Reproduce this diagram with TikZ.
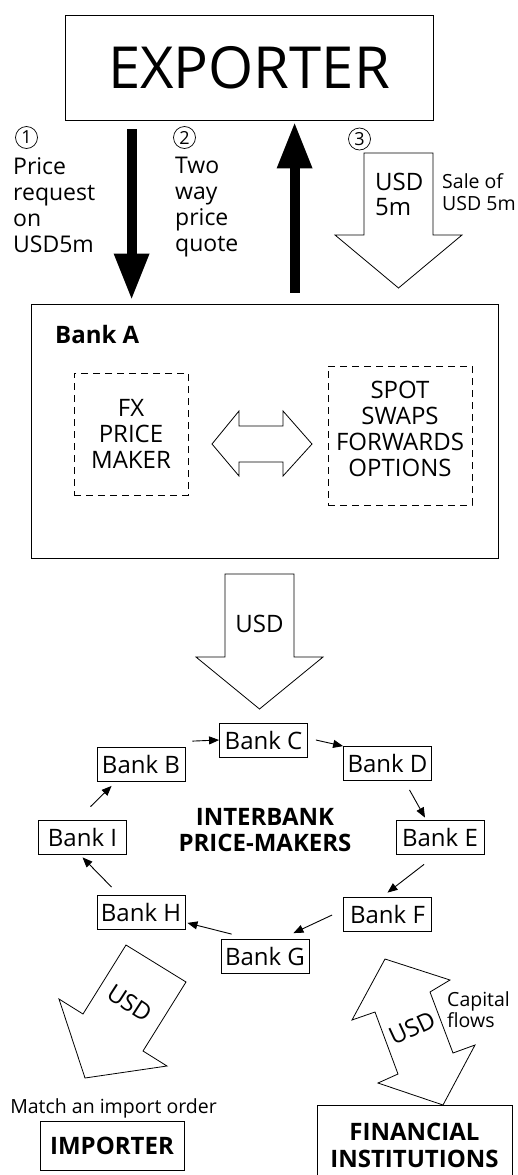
\documentclass[tikz,border=0pt]{standalone}
\usepackage{fontspec}
\setmainfont{Open Sans}
\usetikzlibrary{arrows.meta}

\begin{document}
\begin{tikzpicture}[x=1pt,y=-1pt,
    box/.style={draw,line width=0.8pt,inner sep=0pt},
    dashbox/.style={draw,line width=0.8pt,dash pattern=on 7pt off 5pt,inner sep=0pt},
    bank/.style={box,minimum width=88pt,minimum height=34pt,font=\fontsize{24}{26}\selectfont},
    txt/.style={inner sep=0pt,align=left,font=\fontsize{23}{26}\selectfont},
    small/.style={inner sep=0pt,align=left,font=\fontsize{19.5}{22}\selectfont},
    bold/.style={inner sep=0pt,align=center,font=\fontsize{24}{26.5}\selectfont\bfseries},
    num/.style={circle,draw,line width=0.7pt,inner sep=0pt,minimum size=22pt,font=\fontsize{18}{20}\selectfont},
    hollow/.style={draw,line width=0.8pt,fill=white,line join=miter},
    heavy/.style={line width=10pt,-{Triangle[length=45pt,width=36pt,line width=0pt]}},
    link/.style={line width=0.9pt,-{Triangle[length=10pt,width=8pt]}}]
  \useasboundingbox (0,0) rectangle (517,1175);

  % exporter and bank A
  \node[box,minimum width=368pt,minimum height=105pt,font=\fontsize{58}{60}\selectfont] (exp) at (249,67.5) {EXPORTER};
  \node[box,minimum width=467pt,minimum height=254pt] (bankA) at (264.5,431) {};
  \node[bold,anchor=base west] (bankAlbl) at (55,343) {Bank A};
  \node[dashbox,minimum width=114pt,minimum height=122pt,align=center,font=\fontsize{24}{26}\selectfont] (fx) at (131,434) {FX\\PRICE\\MAKER};
  \node[dashbox,minimum width=144pt,minimum height=139pt] (deriv) at (400,435.5) {};
  \node[inner sep=0pt,align=center,font=\fontsize{24}{26}\selectfont] (derivtxt) at (400,429) {SPOT\\SWAPS\\FORWARDS\\OPTIONS};
  \draw[hollow] (212,444) -- (239,411) -- (239,426) -- (283,426) -- (283,411) -- (312,444)
    -- (283,476) -- (283,462) -- (239,462) -- (239,476) -- cycle;

  \draw[heavy] ([shift={(67,9)}]exp.south west) -- ([shift={(101,-5)}]bankA.north west);
  \draw[heavy] ([shift={(264,-11)}]bankA.north west) -- ([shift={(230,3)}]exp.south west);

  \node[num] (n1) at (26.5,137.5) {1};
  \node[num] (n2) at (184.5,137.5) {2};
  \node[num] (n3) at (359.5,139) {3};
  \node[txt,anchor=north west] (request) at (13,157) {Price\\request\\on\\USD5m};
  \node[txt,anchor=north west] (quote) at (175,157) {Two\\way\\price\\quote};

  % sale of USD
  \draw[hollow] (364,153) -- (433,153) -- (433,235) -- (462,235) -- (398.5,288) -- (335,235) -- (364,235) -- cycle;
  \node[txt,anchor=north west,font=\fontsize{24}{25}\selectfont] (usd5m) at (375,173) {USD\\5m};
  \node[small,anchor=north west] (sale) at (442,173) {Sale of\\USD 5m};

  \draw[hollow] (225,574) -- (294,574) -- (294,657) -- (323,657) -- (259.5,709) -- (196,657) -- (225,657) -- cycle;
  \node[txt,font=\fontsize{24}{26}\selectfont] (usdA) at (259.5,624) {USD};

  % interbank ring
  \foreach \n/\x/\y in {C/263.5/740, B/141/764.5, D/387.5/763.5, I/82.5/837,
                        E/440/837, F/387.5/914, H/141/912.5, G/265/956.5}
    \node[bank] (bank\n) at (\x,\y) {Bank \n};
  \node[bold] (ring) at (265,830) {INTERBANK\\PRICE-MAKERS};

  \draw[link] ([shift={(7,-6)}]bankB.north east) -- (bankC.west);
  \draw[link] ([shift={(8,0)}]bankC.east) -- (bankD.north west);
  \draw[link] ([shift={(22,9)}]bankD.south) -- ([shift={(-15,-2)}]bankE.north);
  \draw[link] ([shift={(-16,10)}]bankE.south) -- ([shift={(0,-4)}]bankF.north);
  \draw[link] ([shift={(-11,1)}]bankF.west) -- ([shift={(-16,-6)}]bankG.north east);
  \draw[link] ([shift={(11,-5)}]bankG.north west) -- ([shift={(2,-7)}]bankH.south east);
  \draw[link] ([shift={(15,-8)}]bankH.north west) -- ([shift={(0,3)}]bankI.south);
  \draw[link] ([shift={(8,-13)}]bankI.north) -- ([shift={(15,4)}]bankB.south west);

  % importer side
  \draw[hollow] (126,945) -- (186,982) -- (143,1051) -- (167,1066) -- (85,1078) -- (59,999) -- (83,1014) -- cycle;
  \node[txt,font=\fontsize{24}{26}\selectfont,rotate=-33] (usdImp) at (130,1003) {USD};
  \node[small,anchor=base] (match) at (113.5,1113) {Match an import order};
  \node[box,bold,minimum width=144pt,minimum height=49pt] (imp) at (112,1145.5) {IMPORTER};

  % financial institutions side
  \draw[hollow] (385,959) -- (450,980) -- (430,992) -- (453,1053) -- (475,1045) -- (443,1105)
    -- (378,1083) -- (398,1074) -- (375,1012) -- (352,1020) -- cycle;
  \node[txt,font=\fontsize{24}{26}\selectfont,rotate=25] (usdFin) at (412,1028) {USD};
  \node[small,anchor=north west,font=\fontsize{19.5}{21}\selectfont] (capital) at (447,991) {Capital\\flows};
  \node[box,bold,minimum width=195pt,minimum height=80pt,font=\fontsize{24}{27}\selectfont\bfseries] (fin) at (414.5,1145) {FINANCIAL\\INSTITUTIONS};
\end{tikzpicture}
\end{document}
